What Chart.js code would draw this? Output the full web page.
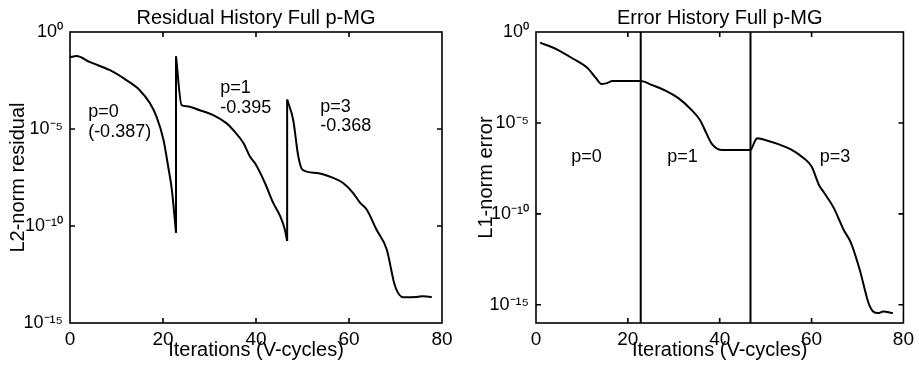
<!DOCTYPE html>
<html><head><meta charset="utf-8">
<script src="https://cdn.jsdelivr.net/npm/chart.js@4/dist/chart.umd.min.js"></script>
<style>
html,body{margin:0;padding:0;background:#fff;}
#wrap{position:relative;width:919px;height:368px;background:#fff;}
canvas{position:absolute;top:0;}
</style></head><body>
<div id="wrap">
<canvas id="c1" width="460" height="368" style="left:0px"></canvas>
<canvas id="c2" width="459" height="368" style="left:460px"></canvas>
</div>
<script>
// ---- data: residual history (left panel) ----
const resIter = [0, 1.4, 4.3, 8.6, 12.2, 15.0, 17.2, 18.6, 20.1, 21.1, 21.9, 22.8,
  22.8, 24.0, 25.1, 27.9, 30.8, 33.7, 35.1, 37.3, 38.7, 39.8, 41.9, 43.7, 45.2, 46.2, 46.7,
  46.7, 48.0, 49.1, 50.0, 53.0, 56.6, 58.8, 60.9, 62.4, 63.8, 65.9, 68.1, 69.9, 71.7, 74.6, 76.0, 77.8];
const resVal = [5.0e-2, 5.8e-2, 2.8e-2, 1.07e-2, 3.2e-3, 1.0e-3, 2.1e-4, 4.3e-5, 2.8e-6, 1.2e-7, 7.4e-9, 4.5e-11,
  5.5e-2, 1.7e-4, 1.5e-4, 9.3e-5, 5.2e-5, 1.95e-5, 8.9e-6, 1.9e-6, 3.8e-7, 1.7e-7, 1.7e-8, 1.55e-9, 3.2e-10, 6.6e-11, 1.7e-11,
  3.3e-4, 2.9e-5, 3.8e-7, 7.9e-8, 5.4e-8, 3.0e-8, 1.6e-8, 5.0e-9, 1.55e-9, 7.1e-10, 6.6e-11, 6.3e-12, 8.1e-14, 2.1e-14, 2.2e-14, 2.4e-14, 2.2e-14];

// ---- data: error history (right panel) ----
const errIter = [0.9, 4.5, 8.0, 11.3, 13.1, 14.2, 15.2, 16.7, 22.8, 25.3, 28.2, 31.0, 33.9, 35.7, 37.1, 38.2, 40.4, 46.7,
  47.6, 48.1, 49.7, 52.6, 55.5, 58.3, 60.0, 61.7, 62.7, 64.8, 67.0, 68.6, 70.5, 72.4, 73.4, 74.5, 75.6, 77.7];
const errVal = [2.6e-1, 1.12e-1, 3.5e-2, 1.0e-2, 2.8e-3, 1.4e-3, 1.5e-3, 2.0e-3, 2.0e-3, 1.2e-3, 6.0e-4, 2.3e-4, 5.1e-5, 1.45e-5, 2.7e-6, 7.6e-7, 3.3e-7, 3.3e-7,
  9.3e-7, 1.45e-6, 1.2e-6, 7.1e-7, 3.5e-7, 1.15e-7, 4.0e-8, 3.5e-9, 1.5e-9, 2.2e-10, 1.3e-11, 2.5e-12, 8.3e-14, 1.26e-15, 4.3e-16, 3.5e-16, 4.3e-16, 3.5e-16];

// p-level switch iterations (vertical lines in right panel)
const switchIter = [22.8, 46.7];

// tick values and labels
const xTickValues = [0, 20, 40, 60, 80];
const yTickValues = [1, 1e-5, 1e-10, 1e-15];
const yTickLabels = ['10\u2070', '10\u207B\u2075', '10\u207B\u00B9\u2070', '10\u207B\u00B9\u2075'];

// text
const resTitle = 'Residual History Full p-MG';
const errTitle = 'Error History Full p-MG';
const xTitle = 'Iterations (V-cycles)';
const resYTitle = 'L2-norm residual';
const errYTitle = 'L1-norm error';
const resNotes = ['p=0', '(-0.387)', 'p=1', '-0.395', 'p=3', '-0.368'];
const errNotes = ['p=0', 'p=1', 'p=3'];

// ---- rendering ----
const FONT = '"Liberation Sans", Arial, Helvetica, sans-serif';
Chart.defaults.color = '#000';
Chart.defaults.font.family = FONT;

const framePlugin = {
  id: 'frame',
  afterDatasetsDraw(chart, args, opts) {
    const {ctx, chartArea: a} = chart;
    const x = chart.scales.x, y = chart.scales.y;
    ctx.save();
    ctx.strokeStyle = '#000';
    ctx.lineWidth = 1.6;
    ctx.strokeRect(a.left, a.top, a.right - a.left, a.bottom - a.top);
    const L = 5;
    ctx.beginPath();
    x.ticks.forEach(t => {
      const px = x.getPixelForValue(t.value);
      if (px <= a.left + 1 || px >= a.right - 1) return;
      ctx.moveTo(px, a.bottom); ctx.lineTo(px, a.bottom - L);
      ctx.moveTo(px, a.top); ctx.lineTo(px, a.top + L);
    });
    y.ticks.forEach(t => {
      const py = y.getPixelForValue(t.value);
      if (py <= a.top + 1 || py >= a.bottom - 1) return;
      ctx.moveTo(a.left, py); ctx.lineTo(a.left + L, py);
      ctx.moveTo(a.right, py); ctx.lineTo(a.right - L, py);
    });
    ctx.stroke();
    ctx.fillStyle = '#000';
    ctx.font = '18px ' + FONT;
    ctx.textBaseline = 'middle';
    (opts.notes || []).forEach(n => {
      ctx.textAlign = n.align;
      ctx.fillText(n.text, x.getPixelForValue(n.x), y.getPixelForValue(n.y));
    });
    ctx.restore();
  }
};

const lineStyle = {showLine: true, borderColor: '#000', borderWidth: 2, pointRadius: 0, fill: false};

// split a series at repeated iteration values (the jumps between p-levels)
function buildDatasets(iter, val) {
  const pts = iter.map((v, i) => ({x: v, y: val[i]}));
  const segs = [[pts[0]]];
  for (let i = 1; i < pts.length; i++) {
    if (pts[i].x === pts[i - 1].x) segs.push([pts[i]]);
    else segs[segs.length - 1].push(pts[i]);
  }
  const ds = [];
  segs.forEach((s, k) => {
    ds.push(Object.assign({data: s, cubicInterpolationMode: 'monotone'}, lineStyle));
    if (k > 0) {
      const prev = segs[k - 1];
      ds.push(Object.assign({data: [prev[prev.length - 1], s[0]], tension: 0}, lineStyle));
    }
  });
  return ds;
}

function makeChart(id, cfg) {
  const datasets = buildDatasets(cfg.iter, cfg.val);
  (cfg.vlines || []).forEach(v => datasets.push(Object.assign({
    data: [{x: v, y: cfg.ymin}, {x: v, y: 1}], tension: 0
  }, lineStyle)));
  return new Chart(document.getElementById(id), {
    type: 'scatter',
    data: {datasets},
    options: {
      responsive: false, animation: false, devicePixelRatio: 1,
      layout: {padding: {left: 0, right: cfg.padRight, top: 0, bottom: 0}},
      plugins: {
        legend: {display: false}, tooltip: {enabled: false},
        title: {display: true, text: cfg.title, fullSize: false, color: '#000',
          font: {size: 20, weight: 'normal', family: FONT}, padding: {top: 6, bottom: 2}},
        frame: {notes: cfg.notes}
      },
      scales: {
        x: {
          type: 'linear', min: 0, max: 80,
          afterBuildTicks: s => { s.ticks = xTickValues.map(v => ({value: v})); },
          ticks: {font: {size: 19, family: FONT}, color: '#000', padding: 5, maxRotation: 0},
          grid: {display: false, drawTicks: false}, border: {display: false},
          title: {display: true, text: xTitle, color: '#000', font: {size: 20, family: FONT}, padding: {top: 0, bottom: 6}},
          afterFit: s => { s.height = 45; }
        },
        y: {
          type: 'logarithmic', min: cfg.ymin, max: 1,
          afterBuildTicks: s => { s.ticks = yTickValues.map(v => ({value: v})); },
          ticks: {font: {size: 18, family: FONT}, color: '#000', padding: 7,
            callback: (v) => { const i = yTickValues.indexOf(v); return i >= 0 ? yTickLabels[i] : ''; }},
          grid: {display: false, drawTicks: false}, border: {display: false},
          title: {display: true, text: cfg.ytitle, color: '#000', font: {size: 20, family: FONT}, padding: {top: cfg.ytitlePad, bottom: 0}},
          afterFit: s => { s.width = cfg.yWidth; }
        }
      }
    },
    plugins: [framePlugin]
  });
}

makeChart('c1', {
  iter: resIter, val: resVal, ymin: 1e-15, title: resTitle, ytitle: resYTitle,
  padRight: 18, yWidth: 70, ytitlePad: 6,
  notes: [
    {text: resNotes[0], x: 3.9, y: 7.4e-5, align: 'left'},
    {text: resNotes[1], x: 3.9, y: 7.1e-6, align: 'left'},
    {text: resNotes[2], x: 32.3, y: 1.26e-3, align: 'left'},
    {text: resNotes[3], x: 32.3, y: 1.2e-4, align: 'left'},
    {text: resNotes[4], x: 53.8, y: 1.35e-4, align: 'left'},
    {text: resNotes[5], x: 53.8, y: 1.4e-5, align: 'left'}
  ]
});

makeChart('c2', {
  iter: errIter, val: errVal, ymin: 1e-16, title: errTitle, ytitle: errYTitle,
  padRight: 12, yWidth: 76, ytitlePad: 14, vlines: switchIter,
  notes: [
    {text: errNotes[0], x: 11.0, y: 1.35e-7, align: 'center'},
    {text: errNotes[1], x: 31.9, y: 1.35e-7, align: 'center'},
    {text: errNotes[2], x: 65.1, y: 1.35e-7, align: 'center'}
  ]
});
</script>
</body></html>
